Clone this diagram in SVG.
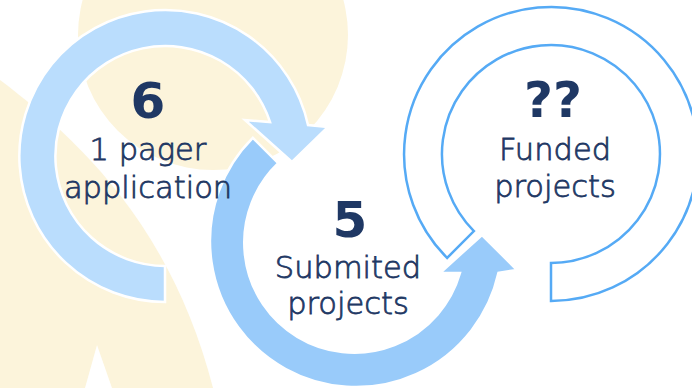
<svg xmlns="http://www.w3.org/2000/svg" width="692" height="388" viewBox="0 0 692 388">
<style>
.bg{fill:#FCF4DB;}
.r1{fill:#BADDFD;stroke:#FFFFFF;stroke-width:2.5;stroke-linejoin:miter;}
.r2{fill:#99CBFA;stroke:#FFFFFF;stroke-width:2.5;stroke-linejoin:miter;}
.r3{fill:#FFFFFF;stroke:#55AAF5;stroke-width:2.5;stroke-linejoin:miter;}
.num{font-family:"DejaVu Sans","Liberation Sans",sans-serif;font-weight:bold;font-size:50px;fill:#1F3864;text-anchor:middle;}
.lbl{font-family:"DejaVu Sans","Liberation Sans",sans-serif;font-weight:300;font-size:30.5px;fill:#1F3864;stroke:#1F3864;stroke-width:0.8;text-anchor:middle;}
</style>
<rect x="0" y="0" width="692" height="388" fill="#FFFFFF"/>
<g id="background">
  <circle class="bg" cx="213" cy="35" r="135"/>
  <path class="bg" d="M0,80 C70,133 170,220 213,388 L0,388 Z"/>
  <path d="M85,388 L97,345 L112,388 Z" fill="#FFFFFF"/>
</g>
<g id="connectors">
  <path id="arrow-1" class="r1" d="M165,302 A146,146 0 1 1 308,125 L328,127 L292,162 L245,120 L270,122 A110,110 0 1 0 165,266 Z"/>
  <path id="arrow-2" class="r2" d="M252.8,137.8 A146,146 0 1 0 498.5,272.8 L517,270 L482,235 L440,273 L460,273 A110,110 0 1 1 278.2,163.2 Z"/>
  <path id="arrow-3" class="r3" d="M447.1,257.9 A147,147 0 1 1 551,301 L551,263 A109,109 0 1 0 473.9,231.1 Z"/>
</g>
<g id="node-1">
  <text class="num" x="148" y="118">6</text>
  <text class="lbl" x="148" y="160">1 pager</text>
  <text class="lbl" x="148" y="198">application</text>
</g>
<g id="node-2">
  <text class="num" x="350" y="237">5</text>
  <text class="lbl" x="348" y="278">Submited</text>
  <text class="lbl" x="348" y="314">projects</text>
</g>
<g id="node-3">
  <text class="num" x="553" y="117">??</text>
  <text class="lbl" x="555" y="160">Funded</text>
  <text class="lbl" x="555" y="197">projects</text>
</g>
</svg>
